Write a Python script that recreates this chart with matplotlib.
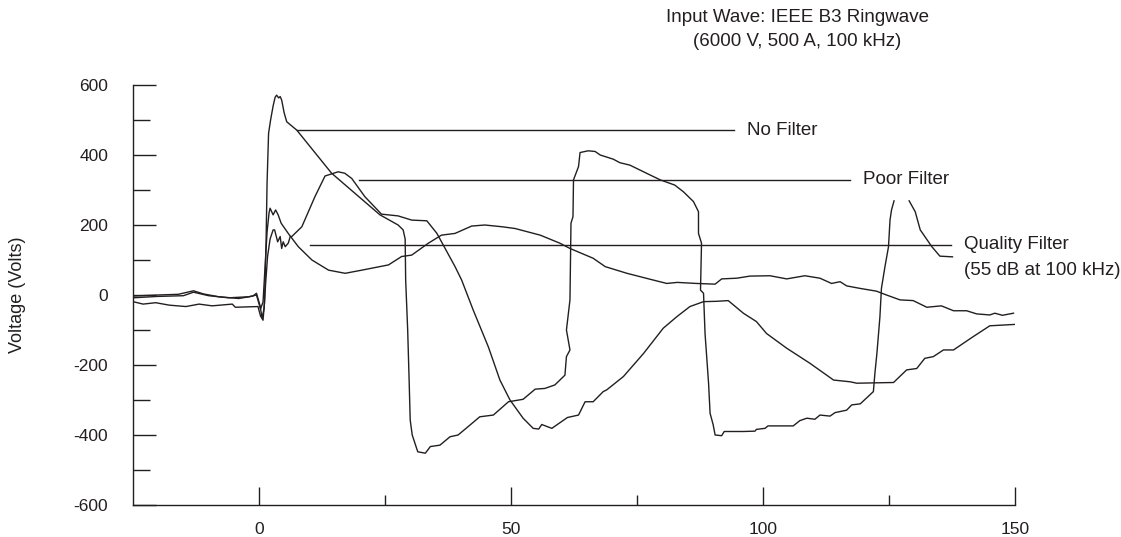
import numpy as np
import matplotlib
matplotlib.use("Agg")
import matplotlib.pyplot as plt
from matplotlib.ticker import FixedLocator

nan = np.nan

# ---- No Filter trace ----
nf_x = [-25, -23, -20.5, -17.8, -14.5, -11.9, -9.3, -5.3, -4.7, -0.2,
        0.3, 0.8, 1.1, 1.4, 1.6, 1.9, 2.3, 2.8, 3.2, 3.5, 3.9, 4.2, 4.5, 5.0, 5.5, 7.5,
        14.4, 24, 27.6, 28.6, 29.0, 29.1, 29.5, 29.8, 30.0, 30.4, 31.5, 33, 34, 35.9,
        37.9, 39.5, 41.5, 43.8, 46.5, 49.5, 52.4, 54.8, 56.7, 58.7, 60.7, 61, 61.7, 61,
        61.7, 61.9, 62.3, 62.4, 63.4, 63.7, 65.3, 66.7, 67.7, 70.3, 71.6, 73.6, 76.3,
        79.6, 82.5, 84.2, 86.2, 87.2, 87.2, 87.8, 87.6, 88.2, 88.5, 89.2, 89.5, 90.1,
        90.5, 91.8, 92.3, 96.1, 98.4, 98.7, 100.4, 101, 106, 107.3, 108.7, 110.3, 111.3,
        113.3, 114.3, 116.6, 117.6, 119.3, 121.9, 122.2, 122.6, 123.2, 123.5, 124.2,
        124.9, 125.2, 125.5, 126, 127.5, 129, 130.2, 131.2, 133.5, 135.1, 137.6]
nf_y = [-19, -26, -22, -29, -33, -26, -31, -26, -35, -33,
        -60, -72, -20, 150, 320, 462, 500, 540, 565, 571, 563, 567, 557, 520, 495, 471,
        348, 229, 200, 186, 160, 43, -100, -250, -357, -400, -448, -452, -433, -429,
        -405, -400, -376, -348, -343, -305, -298, -269, -267, -257, -229, -176, -157, -100,
        -14, 205, 224, 329, 367, 407, 412, 410, 400, 388, 378, 371, 352,
        329, 314, 295, 267, 238, 176, 148, 14, 5, -110, -252, -338, -370,
        -400, -402, -390, -390, -389, -384, -381, -374, -374, -359, -352, -355, -343,
        -346, -336, -329, -314, -311, -276, -224, -167, -62, 19, 81,
        138, 214, 243, 269, nan, 269, 238, 186, 138, 111, 109]

# ---- Poor Filter trace ----
pf_x = [-25, -20, -16, -13, -11, -8, -4, -1.2, -0.5,
        0.2, 0.6, 1.0, 1.3, 1.7, 2.2, 2.8, 3.1, 3.7, 4.2, 4.5, 4.8, 5.2, 5.8, 6.2, 6.5,
        8.5, 11.1, 13.1, 15.7, 17, 18.4, 21, 24.3, 27.6, 30.3, 33.3, 35.3, 38.9, 40.2,
        42.5, 45.5, 47.8, 49.8, 52.4, 54.4, 55.5, 56.1, 58.1, 61.2, 63.4, 64.7, 66.3,
        68.3, 69, 72.3, 76.3, 80.2, 82.9, 85.5, 88.2, 90.8, 93.1, 96.1, 98.7, 100.7,
        104.7, 109.3, 114, 117.3, 118.6, 125.9, 128.5, 130.5, 132.1, 133.8, 135.8,
        137.8, 141.7, 145, 150]
pf_y = [-3, 0, 2, 12, 3, -5, -10, -3, 5,
        -30, -65, -40, 30, 110, 160, 186, 186, 152, 167, 133, 152, 138, 148, 167, 167,
        195, 281, 340, 352, 348, 333, 281, 231, 226, 214, 212, 176, 81, 43,
        -43, -148, -243, -300, -352, -381, -383, -370, -381, -350, -343, -305, -305,
        -276, -271, -233, -167, -95, -62, -33, -19, -18, -16, -52, -76, -110,
        -152, -195, -243, -248, -252, -250, -214, -210, -181, -176, -157,
        -157, -119, -88, -84]

# ---- Quality Filter trace ----
qf_x = [-25, -20, -15, -13, -10, -6, -2, -0.5,
        0.3, 0.8, 1.2, 1.6, 2.0, 2.2, 2.8, 3.3, 3.8, 4.4, 5.8, 7.8, 10.5, 13.8, 17.1,
        20.4, 25.7, 28.3, 30.3, 33.6, 36.2, 38.9, 42.2, 44.8, 48.2, 50.8, 55.8, 59.7,
        61.7, 66.3, 68.7, 73, 77.6, 80.9, 83, 86.8, 90.5, 91.8, 94.8, 97.4, 101.4,
        104.7, 108.3, 111.3, 113.6, 115.3, 116.6, 119.2, 122.5, 124.5, 127.2, 129.8,
        132.5, 135.4, 137.8, 140.4, 142.4, 145, 146, 147.5, 149.7]
qf_y = [-8, -4, -2, 8, -2, -8, -5, 0,
        -40, -20, 80, 180, 235, 248, 229, 243, 229, 205, 176, 138, 100, 71, 62,
        71, 86, 110, 114, 148, 171, 176, 197, 200, 195, 190, 171, 148,
        133, 105, 81, 62, 45, 33, 36, 33, 31, 46, 48, 54, 55,
        46, 55, 48, 33, 38, 26, 19, 11, 0, -14, -16,
        -35, -31, -45, -45, -54, -57, -52, -58, -52]

# ---- Axis ticks ----
x_major = [0, 50, 100, 150]
x_minor = [25, 75, 125]
y_major = [-600, -400, -200, 0, 200, 400, 600]
y_minor = [-500, -300, -100, 100, 300, 500]

# ---- Annotation callouts ----
ann_labels = ["No Filter", "Poor Filter", "Quality Filter"]
ann_y = [471, 329, 143]
ann_x0 = [7.5, 19.8, 10.1]
ann_x1 = [94.2, 117.3, 137.4]
ann_tx = [96.8, 119.8, 139.9]

ink = "#231f20"
plt.rcParams['font.family'] = ['Liberation Sans', 'DejaVu Sans']

fig = plt.figure(figsize=(11.21, 5.37), dpi=100)
ax = fig.add_axes([133/1121, 32/537, 882/1121, 420/537])

lw = 1.0
ax.plot(nf_x, nf_y, color=ink, lw=lw)
ax.plot(pf_x, pf_y, color=ink, lw=lw)
ax.plot(qf_x, qf_y, color=ink, lw=lw)

for lab, y, x0, x1, tx in zip(ann_labels, ann_y, ann_x0, ann_x1, ann_tx):
    ax.plot([x0, x1], [y, y], color=ink, lw=lw)
    ax.text(tx, y, lab, fontsize=13.5, color=ink, ha='left', va='center')
ax.text(ann_tx[2], ann_y[2] - 72, "(55 dB at 100 kHz)", fontsize=13.5,
        color=ink, ha='left', va='center')

ax.set_xlim(-25, 150)
ax.set_ylim(-600, 600)
for s in ['top', 'right']:
    ax.spines[s].set_visible(False)
for s in ['left', 'bottom']:
    ax.spines[s].set_color(ink)
    ax.spines[s].set_linewidth(1.0)

ax.xaxis.set_major_locator(FixedLocator(x_major))
ax.xaxis.set_minor_locator(FixedLocator(x_minor))
ax.yaxis.set_major_locator(FixedLocator(y_major))
ax.yaxis.set_minor_locator(FixedLocator(y_minor))
ax.set_xticklabels([str(v) for v in x_major])
ax.set_yticklabels([str(v) for v in y_major])

ax.tick_params(axis='x', which='major', direction='in', length=13, width=1.0,
               color=ink, labelsize=12.5, labelcolor=ink, pad=12.5)
ax.tick_params(axis='x', which='minor', direction='in', length=7.5, width=1.0, color=ink)
ax.tick_params(axis='y', which='major', direction='in', length=16.5, width=1.0,
               color=ink, labelsize=12.5, labelcolor=ink, pad=18)
ax.tick_params(axis='y', which='minor', direction='in', length=12, width=1.0, color=ink)

fig.text(18/1121, 1 - 295/537, "Voltage (Volts)", rotation=90, fontsize=13,
         color=ink, ha='center', va='center')
fig.text(797/1121, 1 - 18/537, "Input Wave: IEEE B3 Ringwave", fontsize=13.5,
         color=ink, ha='center', va='center')
fig.text(797/1121, 1 - 41/537, "(6000 V, 500 A, 100 kHz)", fontsize=13.5,
         color=ink, ha='center', va='center')

fig.savefig("out.png", dpi=100)
